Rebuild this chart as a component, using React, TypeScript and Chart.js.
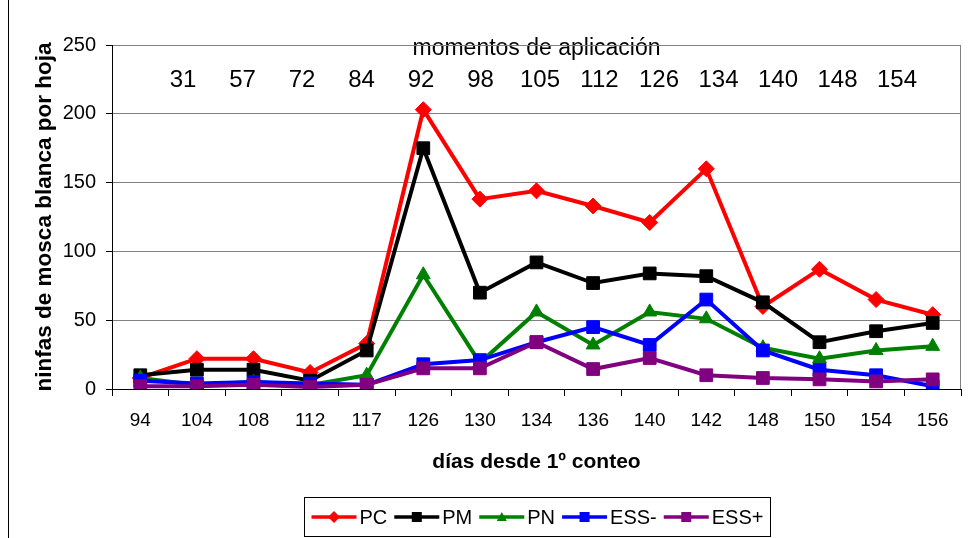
import React, { useEffect, useRef } from "react";
import { Chart, registerables } from "chart.js";

Chart.register(...registerables);

const days = ["94", "104", "108", "112", "117", "126", "130", "134", "136", "140", "142", "148", "150", "154", "156"];
const pc = [8, 22, 22, 12, 33, 203, 138, 144, 133, 121, 160, 60, 87, 65, 54];
const pm = [10, 14, 14, 6, 28, 175, 70, 92, 77, 84, 82, 63, 34, 42, 48];
const pn = [8, 3, 5, 3, 10, 83, 19, 56, 32, 56, 51, 30, 22, 28, 31];
const essMinus = [6, 4, 5, 4, 3, 18, 21, 34, 45, 32, 65, 28, 14, 10, 2];
const essPlus = [2, 2, 3, 1.5, 3, 15, 15, 34, 14.5, 22.5, 10, 8, 7, 5.5, 7];
const momentos = ["31", "57", "72", "84", "92", "98", "105", "112", "126", "134", "140", "148", "154"];
const momentosTitle = "momentos de aplicación";
const yTitle = "ninfas de mosca blanca por hoja";
const xTitle = "días desde 1º conteo";

const FONT = "'Liberation Sans', Arial, sans-serif";

function drawMarker(ctx: CanvasRenderingContext2D, style: string, x: number, y: number, r: number, color: string) {
  ctx.save();
  ctx.fillStyle = color;
  ctx.beginPath();
  if (style === "rectRot") {
    ctx.moveTo(x, y - r);
    ctx.lineTo(x + r, y);
    ctx.lineTo(x, y + r);
    ctx.lineTo(x - r, y);
    ctx.closePath();
  } else if (style === "triangle") {
    const h = r * 1.6;
    ctx.moveTo(x, y - h / 2 - 1);
    ctx.lineTo(x + r, y + h / 2);
    ctx.lineTo(x - r, y + h / 2);
    ctx.closePath();
  } else {
    ctx.rect(x - r, y - r, 2 * r, 2 * r);
  }
  ctx.fill();
  ctx.restore();
}

export default function App() {
  const ref = useRef<HTMLCanvasElement>(null);

  useEffect(() => {
    const canvas = ref.current;
    if (!canvas) return;
    Chart.defaults.font.family = FONT;

    const decor = {
      id: "decor",
      beforeDraw(chart: any) {
        const { ctx, chartArea: a } = chart;
        ctx.save();
        ctx.fillStyle = "#fff";
        ctx.fillRect(0, 0, chart.width, chart.height);
        ctx.strokeStyle = "#000";
        ctx.lineWidth = 1;
        ctx.beginPath();
        ctx.moveTo(8.5, 0);
        ctx.lineTo(8.5, chart.height);
        ctx.stroke();
        ctx.fillStyle = "#000";
        ctx.textAlign = "center";
        ctx.textBaseline = "alphabetic";
        const cx = (a.left + a.right) / 2;
        ctx.font = `23px ${FONT}`;
        ctx.fillText(momentosTitle, cx, a.top + 10);
        ctx.font = `24px ${FONT}`;
        momentos.forEach((m, i) => {
          ctx.fillText(m, a.left + 71 + i * 59.5, a.top + 42);
        });
        ctx.restore();
      },
      beforeDatasetsDraw(chart: any) {
        const { ctx, chartArea: a } = chart;
        ctx.save();
        ctx.strokeStyle = "#808080";
        ctx.lineWidth = 1;
        ctx.beginPath();
        ctx.moveTo(Math.round(a.right) - 0.5, a.top);
        ctx.lineTo(Math.round(a.right) - 0.5, a.bottom);
        ctx.stroke();
        ctx.restore();
      },
      afterDraw(chart: any) {
        const { ctx, chartArea: a } = chart;
        const ds = chart.data.datasets;
        ctx.save();
        ctx.font = `20px ${FONT}`;
        const lineLen = 45, gapText = 3, gapItem = 7, padX = 7;
        const widths = ds.map((d: any) => lineLen + gapText + ctx.measureText(d.label).width);
        const total = widths.reduce((s: number, w: number) => s + w, 0) + gapItem * (ds.length - 1) + 2 * padX;
        const cx = (a.left + a.right) / 2;
        const boxL = Math.round(cx - total / 2) + 0.5;
        const boxT = chart.height - 41 + 0.5;
        const boxH = 39;
        ctx.strokeStyle = "#000";
        ctx.lineWidth = 1;
        ctx.strokeRect(boxL, boxT, Math.round(total), boxH);
        const cy = boxT + boxH / 2;
        let x = boxL + padX;
        ds.forEach((d: any, i: number) => {
          ctx.strokeStyle = d.borderColor;
          ctx.lineWidth = 3.5;
          ctx.beginPath();
          ctx.moveTo(x, cy);
          ctx.lineTo(x + lineLen, cy);
          ctx.stroke();
          drawMarker(ctx, d.pointStyle, x + lineLen / 2, cy, d.pointStyle === "rectRot" ? 6 : 5, d.borderColor);
          ctx.fillStyle = "#000";
          ctx.textAlign = "left";
          ctx.textBaseline = "middle";
          ctx.fillText(d.label, x + lineLen + gapText, cy + 1);
          x += widths[i] + gapItem;
        });
        ctx.restore();
      },
    };

    const mk = (label: string, data: number[], color: string, pointStyle: string, radius: number, order: number) => ({
      label,
      data,
      borderColor: color,
      backgroundColor: color,
      pointBackgroundColor: color,
      pointBorderColor: color,
      pointStyle,
      pointRadius: radius,
      pointBorderWidth: 1,
      borderWidth: 4,
      tension: 0,
      order,
    });

    const chart = new Chart(canvas, {
      type: "line",
      data: {
        labels: days,
        datasets: [
          mk("PC", pc, "#FF0000", "rectRot", 8, 4),
          mk("PM", pm, "#000000", "rect", 9, 3),
          mk("PN", pn, "#008000", "triangle", 8, 2),
          mk("ESS-", essMinus, "#0000FF", "rect", 9, 1),
          mk("ESS+", essPlus, "#800080", "rect", 9, 0),
        ] as any,
      },
      options: {
        animation: false,
        responsive: false,
        events: [],
        layout: { padding: { left: 10, right: 12, top: 45, bottom: 58 } },
        plugins: {
          legend: { display: false },
          tooltip: { enabled: false },
          title: { display: false },
        },
        scales: {
          x: {
            type: "category",
            offset: true,
            grid: {
              offset: true,
              drawOnChartArea: false,
              tickLength: 7,
              color: "#000",
              tickColor: "#000",
            },
            border: { color: "#000", width: 1 },
            ticks: {
              color: "#000",
              font: { family: FONT, size: 19 },
              padding: 13,
              maxRotation: 0,
              autoSkip: false,
            },
            title: {
              display: true,
              text: xTitle,
              color: "#000",
              font: { family: FONT, size: 21, weight: "bold" },
              padding: { top: 0, bottom: 5 },
            },
            afterFit: (s: any) => {
              s.height = 91;
            },
          },
          y: {
            min: 0,
            max: 250,
            ticks: {
              stepSize: 50,
              color: "#000",
              font: { family: FONT, size: 20 },
              padding: 10,
            },
            grid: {
              color: (c: any) => (c.tick && c.tick.value === 0 ? "#000" : "#808080"),
              tickColor: "#000",
              tickLength: 6,
            },
            border: { color: "#000", width: 1 },
            title: {
              display: true,
              text: yTitle,
              color: "#000",
              font: { family: FONT, size: 22.5, weight: "bold" },
              padding: { top: 21, bottom: 0 },
            },
            afterFit: (s: any) => {
              s.width = 102;
            },
          },
        },
      } as any,
      plugins: [decor],
    });

    return () => chart.destroy();
  }, []);

  return (
    <canvas
      ref={ref}
      width={973}
      height={538}
      style={{ position: "absolute", left: 0, top: 0, display: "block" }}
    />
  );
}
